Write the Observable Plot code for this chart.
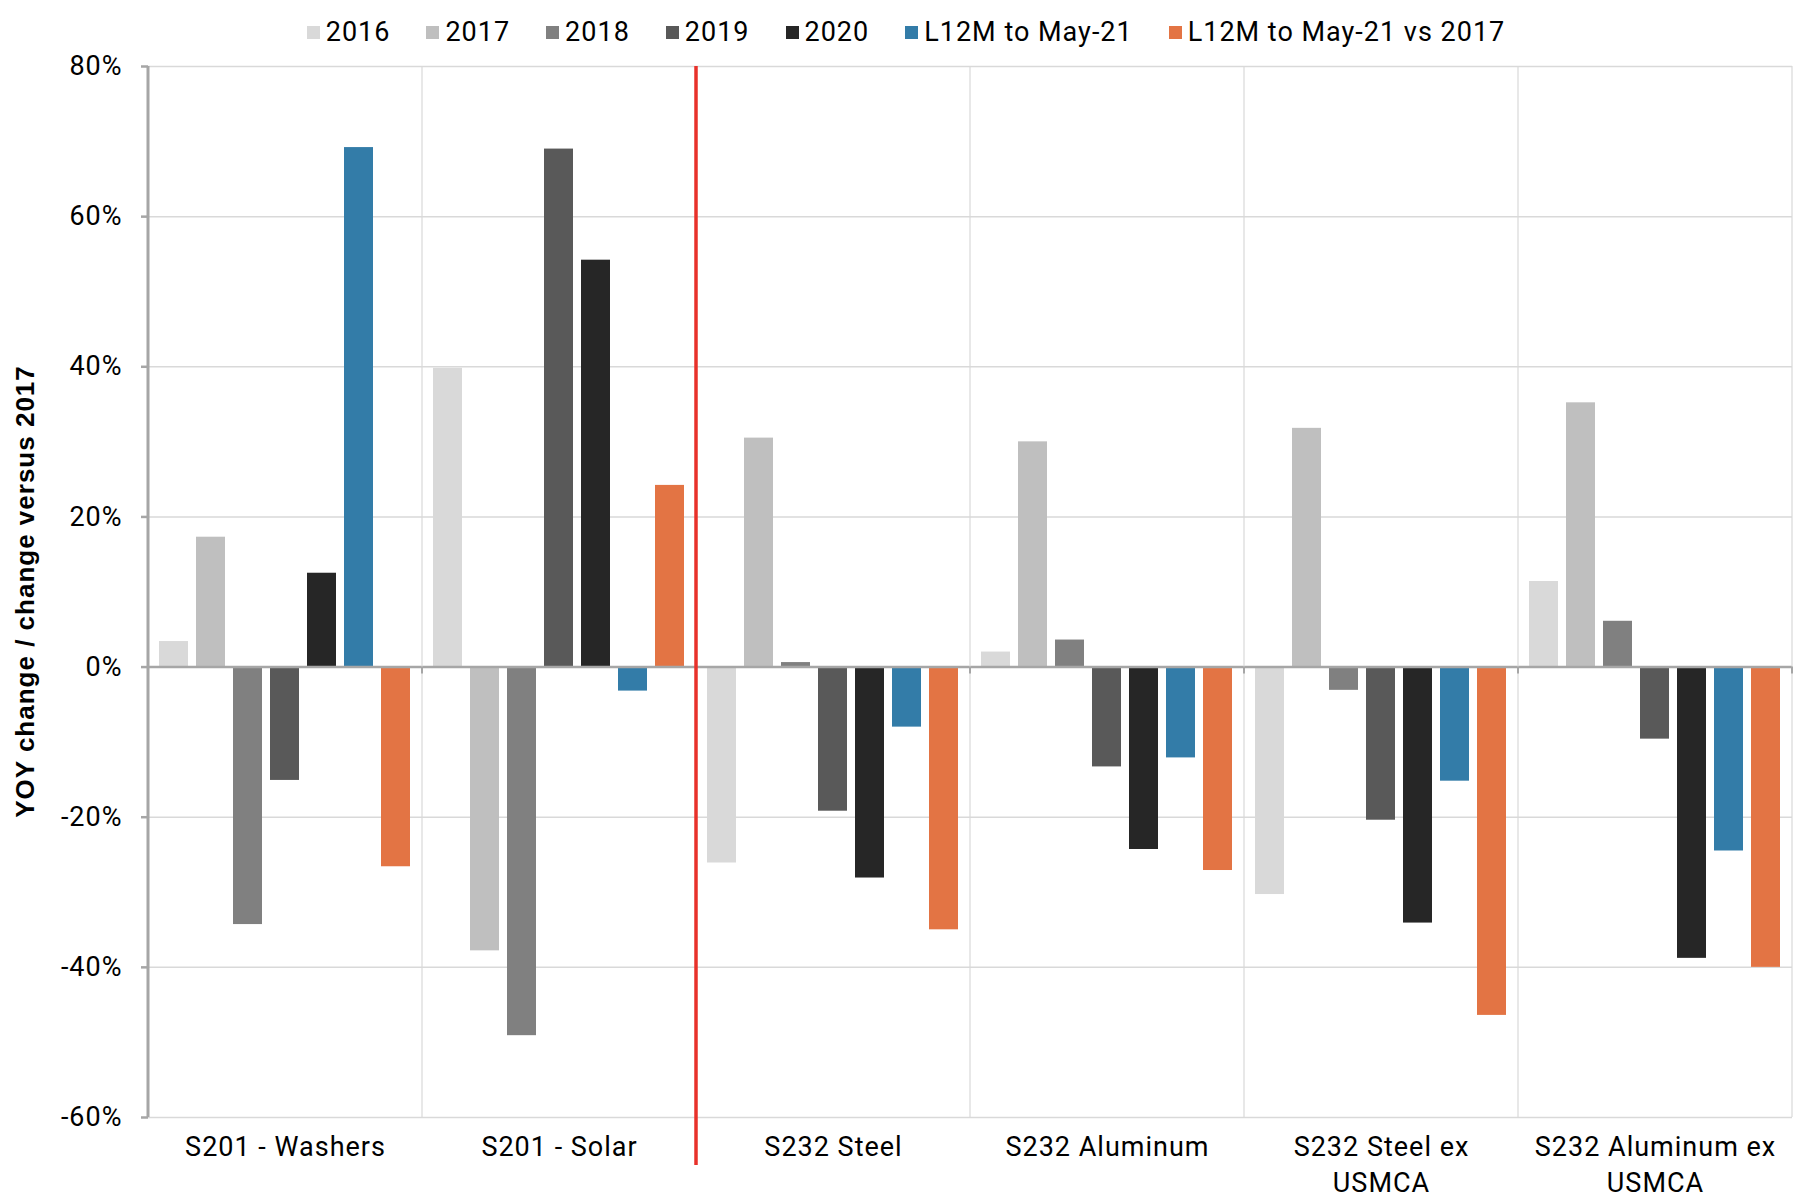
<!DOCTYPE html>
<html><head><meta charset="utf-8">
<script src="https://cdn.jsdelivr.net/npm/d3@7"></script>
<script src="https://cdn.jsdelivr.net/npm/@observablehq/plot@0.6"></script>
<style>
body{margin:0;background:#fff;font-family:Roboto,sans-serif;}
#legend{display:flex;justify-content:center;align-items:center;height:48px;padding-top:8px;gap:36px;font-size:27px;letter-spacing:1px;color:#000;}
.item{display:flex;align-items:center;}
.sw{width:13px;height:13px;margin-right:6px;display:inline-block;}
</style></head><body>
<div id="legend"></div>
<div id="chart"></div>
<script>
const categories = ["S201 - Washers","S201 - Solar","S232 Steel","S232 Aluminum","S232 Steel ex USMCA","S232 Aluminum ex USMCA"];
const categoryLabels = ["S201 - Washers","S201 - Solar","S232 Steel","S232 Aluminum","S232 Steel ex\nUSMCA","S232 Aluminum ex\nUSMCA"];
const series = ["2016","2017","2018","2019","2020","L12M to May-21","L12M to May-21 vs 2017"];
const seriesColors = ["#d9d9d9","#bfbfbf","#808080","#595959","#262626","#337ca8","#e37444"];
const v2016 = [3.4, 39.8, -26.1, 2.0, -30.3, 11.4];
const v2017 = [17.3, -37.8, 30.5, 30.0, 31.8, 35.2];
const v2018 = [-34.3, -49.1, 0.6, 3.6, -3.1, 6.1];
const v2019 = [-15.1, 69.0, -19.2, -13.3, -20.4, -9.6];
const v2020 = [12.5, 54.2, -28.1, -24.3, -34.1, -38.8];
const vL12M = [69.2, -3.2, -8.0, -12.1, -15.2, -24.5];
const vL12Mvs2017 = [-26.6, 24.2, -35.0, -27.1, -46.4, -40.0];
const yTicks = [-60, -40, -20, 0, 20, 40, 60, 80];
const yTitle = "YOY change / change versus 2017";

const valueSets = [v2016, v2017, v2018, v2019, v2020, vL12M, vL12Mvs2017];
const rows = categories.flatMap((c, i) => series.map((s, j) => ({category: c, series: s, value: valueSets[j][i]})));

// legend
const legend = document.getElementById("legend");
series.forEach((s, j) => {
  const it = document.createElement("div"); it.className = "item";
  const sw = document.createElement("span"); sw.className = "sw"; sw.style.background = seriesColors[j];
  const tx = document.createElement("span"); tx.textContent = s;
  it.appendChild(sw); it.appendChild(tx); legend.appendChild(it);
});

const chart = Plot.plot({
  width: 1812, height: 1142,
  marginTop: 10, marginBottom: 81, marginLeft: 146, marginRight: 19,
  style: {fontFamily: "Roboto, sans-serif", fontSize: "27px", letterSpacing: "1px", color: "#000", background: "#fff", overflow: "visible"},
  fx: {domain: categories, padding: 0, axis: null},
  x: {domain: series, paddingInner: 0.21, paddingOuter: 0.303, axis: null},
  y: {domain: [-60, 80], axis: null},
  color: {domain: series, range: seriesColors},
  marks: [
    Plot.ruleY(yTicks.filter(d => d !== 0), {stroke: "#d9d9d9", strokeWidth: 1.5}),
    Plot.barY(rows, {fx: "category", x: "series", y: "value", fill: "series"}),
    Plot.ruleY([0], {stroke: "#a6a6a6", strokeWidth: 2.5}),
    Plot.axisY({ticks: yTicks, tickFormat: d => d + "%", tickSize: 7, tickPadding: 19, stroke: "#a6a6a6", strokeWidth: 2.5, fill: "#000", label: null}),
    Plot.axisFx({anchor: "bottom", tickSize: 0, tickPadding: 14, label: null, lineHeight: 1.3, fill: "#000",
      tickFormat: d => categoryLabels[categories.indexOf(d)]})
  ]
});
document.getElementById("chart").appendChild(chart);

// scale-driven decorations
const fx = chart.scale("fx"), y = chart.scale("y");
const svg = d3.select(chart);
const yTop = y.apply(80), yBot = y.apply(-60), yZero = y.apply(0);
const bw = fx.bandwidth != null ? fx.bandwidth : (fx.range[1] - fx.range[0]) / categories.length;
const g = svg.append("g");
categories.forEach((c, i) => {
  const xr = fx.apply(c) + bw;
  g.append("line").attr("x1", xr).attr("x2", xr).attr("y1", yTop).attr("y2", yBot).attr("stroke", "#d9d9d9").attr("stroke-width", 1.2);
  g.append("line").attr("x1", xr).attr("x2", xr).attr("y1", yZero).attr("y2", yZero + 7).attr("stroke", "#a6a6a6").attr("stroke-width", 2);
});
const x0 = fx.apply(categories[0]);
g.append("line").attr("x1", x0).attr("x2", x0).attr("y1", yTop).attr("y2", yBot).attr("stroke", "#a6a6a6").attr("stroke-width", 3);
const xRed = fx.apply(categories[1]) + bw;
g.append("line").attr("x1", xRed).attr("x2", xRed).attr("y1", yTop).attr("y2", yBot + 48).attr("stroke", "#e8312a").attr("stroke-width", 3.5);
svg.append("text").text(yTitle)
  .attr("transform", `translate(27,${(yTop + yBot) / 2}) rotate(-90)`)
  .attr("text-anchor", "middle").attr("dominant-baseline", "middle")
  .attr("font-family", "'Liberation Sans', Arial, sans-serif").attr("font-weight", "bold")
  .attr("font-size", 26).attr("letter-spacing", "1px").attr("fill", "#000");
</script>
</body></html>
